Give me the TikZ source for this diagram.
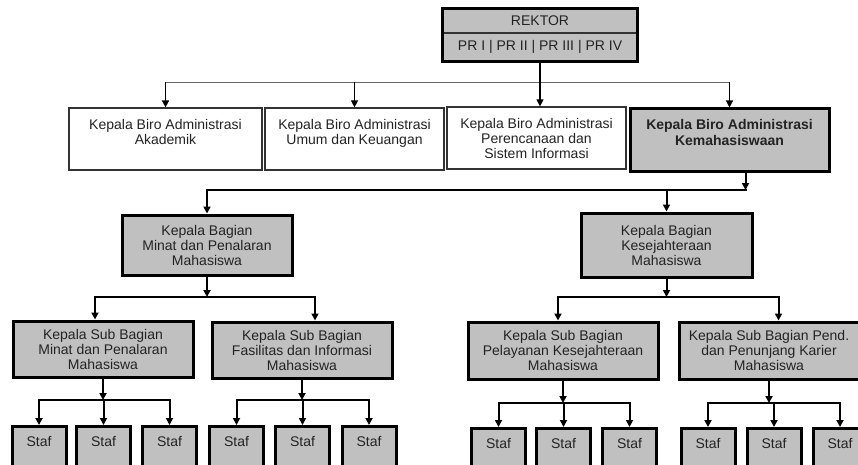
\documentclass[tikz,border=0pt]{standalone}
\usepackage{fontspec}
\setmainfont{Liberation Sans}
\usetikzlibrary{positioning}
\usetikzlibrary{arrows.meta}
\definecolor{boxgray}{RGB}{192,192,192}
\definecolor{txt}{RGB}{35,35,35}

\begin{document}
\begin{tikzpicture}[x=1pt, y=-1pt, >={Triangle[length=7pt,width=7pt]},
    every node/.style={font=\fontsize{14}{15}\selectfont, text=txt, align=center, inner sep=0pt},
    plain/.style={draw=black!80, line width=1.2pt, fill=white},
    heavy/.style={draw=black, line width=3pt, fill=boxgray},
    staf/.style={heavy, anchor=north, minimum width=54pt, text height=20pt, text depth=30pt},
    con/.style={->, line width=2pt},
    bus/.style={line width=2pt, line cap=rect},
    thinbus/.style={line width=1pt, draw=black!60}]
        \useasboundingbox (0,0) rectangle (858,465);
        \clip (0,0) rectangle (858,465);

        % rektor
        \node[draw=black!80, line width=1.2pt, fill=boxgray, minimum width=194pt, minimum height=24pt] (rektor) at (540,21) {REKTOR};
        \node[draw=black!80, line width=1.2pt, fill=boxgray, minimum width=194pt, minimum height=28pt] (pr) at (540,47) {PR I | PR II | PR III | PR IV};
        \draw[line width=3pt] (rektor.north west) rectangle (pr.south east);

        % biro
        \node[plain, minimum width=193pt, minimum height=62pt] (biro1) at (165.5,139) {Kepala Biro Administrasi\\Akademik\\\mbox{}};
        \node[plain, minimum width=179pt, minimum height=62pt] (biro2) at (354.5,139) {Kepala Biro Administrasi\\Umum dan Keuangan\\\mbox{}};
        \node[plain, minimum width=179pt, minimum height=62pt] (biro3) at (536.5,138) {Kepala Biro Administrasi\\Perencanaan dan\\Sistem Informasi};
        \node[heavy, minimum width=199pt, minimum height=62pt, font=\fontsize{14}{16}\selectfont\bfseries] (biro4) at (729.5,140) {Kepala Biro Administrasi\\Kemahasiswaan\\\mbox{}};

        % bagian
        \node[heavy, minimum width=170pt, minimum height=60pt] (bag1) at (207,245) {Kepala Bagian\\Minat dan Penalaran\\Mahasiswa};
        \node[heavy, minimum width=171pt, minimum height=64pt] (bag2) at (666.5,245) {Kepala Bagian\\Kesejahteraan\\Mahasiswa};

        % sub bagian
        \node[heavy, minimum width=180pt, minimum height=56pt] (sub1) at (103,349) {Kepala Sub Bagian\\Minat dan Penalaran\\Mahasiswa};
        \node[heavy, minimum width=180pt, minimum height=56pt] (sub2) at (302,350) {Kepala Sub Bagian\\Fasilitas dan Informasi\\Mahasiswa};
        \node[heavy, minimum width=190pt, minimum height=57pt] (sub3) at (563,350.5) {Kepala Sub Bagian\\Pelayanan Kesejahteraan\\Mahasiswa};
        \node[heavy, minimum width=180pt, minimum height=57pt] (sub4) at (769,350.5) {Kepala Sub Bagian Pend.\\dan Penunjang Karier\\Mahasiswa};

        % staf
        \foreach \n/\xx in {1/39, 2/103.5, 3/169.5} \node[staf] (sa\n) at (\xx,425) {Staf};
        \foreach \n/\xx in {1/236.5, 2/302.5, 3/369} \node[staf] (sb\n) at (\xx,425) {Staf};
        \foreach \n/\xx in {1/498.5, 2/563.5, 3/629.5} \node[staf] (sc\n) at (\xx,427) {Staf};
        \foreach \n/\xx in {1/708, 2/774, 3/840} \node[staf] (sd\n) at (\xx,427) {Staf};

        \coordinate (busA) at (0,82.5);
        \coordinate (busB) at (0,190);
        \coordinate (busC) at (0,297);
        \coordinate (busD) at (0,400);
        \coordinate (busE) at (0,403);

        % rektor to biro
        \draw[thinbus] (biro1 |- busA) -- (biro4 |- busA);
        \draw[->, line width=1.2pt] (pr.south) -- (pr.south |- biro3.north);
        \draw[->, line width=1.6pt] (biro1 |- busA) -- (biro1.north);
        \draw[->, line width=1.2pt] (biro2 |- busA) -- (biro2.north);
        \draw[->, line width=1.2pt] (biro4 |- busA) -- (biro4.north);

        % biro kemahasiswaan to bagian
        \draw[bus] (bag1 |- busB) -- ([xshift=16pt]biro4.south |- busB);
        \draw[con] ([xshift=16pt]biro4.south) -- ([xshift=16pt]biro4.south |- busB);
        \draw[con] (bag1 |- busB) -- (bag1.north);
        \draw[con] (bag2 |- busB) -- (bag2.north);

        % bagian to sub bagian
        \draw[bus] ([xshift=-8pt]sub1.north |- busC) -- ([xshift=13pt]sub2.north |- busC);
        \draw[con] (bag1.south) -- (bag1 |- busC);
        \draw[con] ([xshift=-8pt]sub1.north |- busC) -- ([xshift=-8pt]sub1.north);
        \draw[con] ([xshift=13pt]sub2.north |- busC) -- ([xshift=13pt]sub2.north);
        \draw[bus] ([xshift=-5pt]sub3.north |- busC) -- ([xshift=9.5pt]sub4.north |- busC);
        \draw[con] (bag2.south) -- (bag2 |- busC);
        \draw[con] ([xshift=-5pt]sub3.north |- busC) -- ([xshift=-5pt]sub3.north);
        \draw[con] ([xshift=9.5pt]sub4.north |- busC) -- ([xshift=9.5pt]sub4.north);

        % sub bagian to staf
        \draw[bus] (sa1.north |- busD) -- (sa3.north |- busD);
        \draw[con] (sub1.south) -- (sub1.south |- busD);
        \draw[bus] (sb1.north |- busD) -- (sb3.north |- busD);
        \draw[con] (sub2.south) -- (sub2.south |- busD);
        \draw[bus] (sc1.north |- busE) -- (sc3.north |- busE);
        \draw[con] (sub3.south) -- (sub3.south |- busE);
        \draw[bus] (sd1.north |- busE) -- (sd3.north |- busE);
        \draw[con] (sub4.south) -- (sub4.south |- busE);
        \foreach \n in {1,2,3} {
            \draw[con] (sa\n.north |- busD) -- (sa\n.north);
            \draw[con] (sb\n.north |- busD) -- (sb\n.north);
            \draw[con] (sc\n.north |- busE) -- (sc\n.north);
            \draw[con] (sd\n.north |- busE) -- (sd\n.north);
        }
    \end{tikzpicture}
\end{document}
